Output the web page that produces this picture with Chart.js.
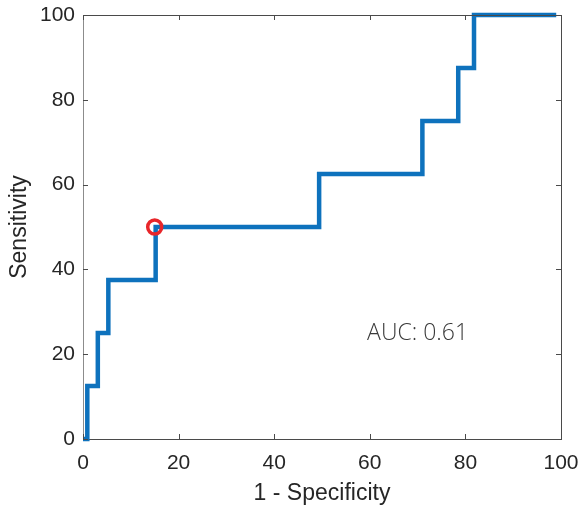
<!DOCTYPE html>
<html>
<head>
<meta charset="utf-8">
<script src="https://cdn.jsdelivr.net/npm/chart.js@4"></script>
<style>
  html, body { margin: 0; padding: 0; background: #fff; }
  #wrap { width: 579px; height: 510px; }
</style>
</head>
<body>
<div id="wrap"><canvas id="roc" width="579" height="510"></canvas></div>
<script>
// ROC curve points (false positive rate, true positive rate), in percent
const fpr = [0, 0.9, 0.9, 3.1, 5.3, 15.2, 49.4, 71, 78.5, 81.8, 99];
const tpr = [0, 0, 12.5, 25, 37.5, 50, 62.5, 75, 87.5, 100, 100];
// chosen operating point
const cutX = [15];
const cutY = [50];
const aucText = "AUC: 0.61";
const tickValues = [0, 20, 40, 60, 80, 100];

const lineColor = "#0e72bd";
const axisColor = "#4a4a4a";

// inward ticks and the box around the plot, like a MATLAB axes
const boxPlugin = {
  id: "box",
  afterDatasetsDraw(chart) {
    const { ctx, chartArea: a, scales } = chart;
    ctx.save();
    ctx.lineWidth = 1;
    ctx.strokeStyle = axisColor;
    ctx.beginPath();
    ctx.moveTo(a.left, a.top + 0.5);
    ctx.lineTo(a.right + 0.5, a.top + 0.5);
    ctx.lineTo(a.right + 0.5, a.bottom);
    ctx.stroke();
    const len = 5;
    ctx.beginPath();
    tickValues.forEach((v) => {
      const x = Math.round(scales.x.getPixelForValue(v)) + 0.5;
      ctx.moveTo(x, a.bottom);
      ctx.lineTo(x, a.bottom - len);
      ctx.moveTo(x, a.top);
      ctx.lineTo(x, a.top + len);
      const y = Math.round(scales.y.getPixelForValue(v)) + 0.5;
      ctx.moveTo(a.left, y);
      ctx.lineTo(a.left + len, y);
      ctx.moveTo(a.right, y);
      ctx.lineTo(a.right - len, y);
    });
    ctx.stroke();
    // AUC label
    ctx.font = "300 23px 'Open Sans'";
    ctx.fillStyle = "#3a3a3a";
    ctx.textAlign = "center";
    ctx.textBaseline = "middle";
    ctx.fillText(aucText, scales.x.getPixelForValue(70), scales.y.getPixelForValue(25));
    ctx.restore();
  },
};

new Chart(document.getElementById("roc"), {
  type: "scatter",
  data: {
    datasets: [
      {
        data: fpr.map((x, i) => ({ x: x, y: tpr[i] })),
        showLine: true,
        stepped: "before",
        borderColor: lineColor,
        borderWidth: 4.5,
        borderJoinStyle: "miter",
        borderCapStyle: "butt",
        pointRadius: 0,
        clip: false,
        order: 2,
      },
      {
        data: cutX.map((x, i) => ({ x: x, y: cutY[i] })),
        pointStyle: "circle",
        pointRadius: 7,
        pointBorderWidth: 3.5,
        pointBorderColor: "#e8262a",
        pointBackgroundColor: "rgba(0,0,0,0)",
        clip: false,
        order: 1,
      },
    ],
  },
  options: {
    responsive: false,
    animation: false,
    layout: { padding: { top: 15, right: 18, bottom: 0, left: 0 } },
    plugins: { legend: { display: false }, tooltip: { enabled: false } },
    scales: {
      x: {
        type: "linear",
        min: 0,
        max: 100,
        afterBuildTicks: (s) => { s.ticks = tickValues.map((v) => ({ value: v })); },
        afterFit: (s) => { s.height = 71; s.paddingLeft = 0; s.paddingRight = 0; },
        grid: { drawOnChartArea: false, drawTicks: false },
        border: { color: axisColor, width: 1 },
        ticks: { padding: 12, color: "#262626", font: { family: "Liberation Sans", size: 21 } },
        title: {
          display: true,
          text: "1 - Specificity",
          color: "#262626",
          font: { family: "Liberation Sans", size: 23 },
          padding: { top: 0, bottom: 3 },
        },
      },
      y: {
        type: "linear",
        min: 0,
        max: 100,
        afterBuildTicks: (s) => { s.ticks = tickValues.map((v) => ({ value: v })); },
        afterFit: (s) => { s.width = 83; s.paddingTop = 0; s.paddingBottom = 0; },
        grid: { drawOnChartArea: false, drawTicks: false },
        border: { color: "#8c8c8c", width: 1 },
        ticks: { padding: 8, color: "#262626", font: { family: "Liberation Sans", size: 21 } },
        title: {
          display: true,
          text: "Sensitivity",
          color: "#262626",
          font: { family: "Liberation Sans", size: 23 },
          padding: { top: 6, bottom: 0 },
        },
      },
    },
  },
  plugins: [boxPlugin],
});
</script>
</body>
</html>
